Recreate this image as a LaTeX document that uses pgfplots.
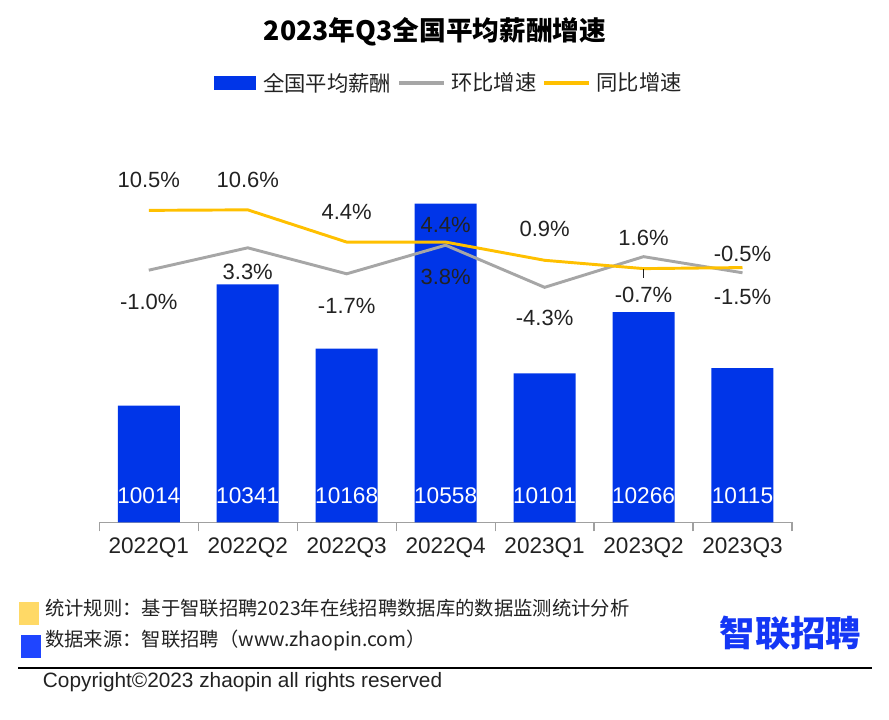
\documentclass[border=0pt]{standalone}
\usepackage{fontspec}
\usepackage{pgfplots}
\pgfplotsset{compat=1.18}
\setmainfont{Liberation Sans}
\newfontfamily\cjk{Noto Sans CJK SC}
\definecolor{barblue}{HTML}{0035E8}
\definecolor{lgray}{HTML}{A6A6A6}
\definecolor{lyellow}{HTML}{FFC000}
\definecolor{sqyellow}{HTML}{FFD966}
\definecolor{sqblue}{HTML}{1F45FF}
\definecolor{logoblue}{HTML}{1436F5}
\definecolor{txt}{HTML}{222222}
\definecolor{axgray}{HTML}{A0A0A0}

\begin{document}
\begin{tikzpicture}
\useasboundingbox (0pt,0pt) rectangle (666.75pt,540pt);
\node[inner sep=0, font=\cjk\bfseries\fontsize{20}{24}\selectfont, text=black] at (326.25pt,516.375pt) {2023年Q3全国平均薪酬增速};

\begin{axis}[
  at={(74.475pt,148.275pt)}, anchor=south west, scale only axis,
  width=519.5pt, height=294pt,
  xmin=-0.5, xmax=6.5, ymin=9700, ymax=10755.7,
  axis x line*=bottom, axis y line=none, ytick=\empty,
  x axis line style={draw=axgray, line width=0.9pt},
  xtick={0,1,2,3,4,5,6},
  xticklabels={2022Q1,2022Q2,2022Q3,2022Q4,2023Q1,2023Q2,2023Q3},
  major tick length=0pt,
  xticklabel style={font=\fontsize{16.9}{18}\selectfont, text=txt, anchor=center, yshift=-19.3pt},
  extra x ticks={-0.5,0.5,1.5,2.5,3.5,4.5,5.5,6.5},
  extra x tick labels={},
  extra x tick style={major tick length=6.75pt, tick align=outside, tick style={draw=axgray, line width=0.9pt}},
  legend columns=3,
  legend image code/.code={\fill[#1] (0pt,-1.1pt) rectangle (33pt,1.1pt);},
  legend style={at={(0.503,1.1207)}, anchor=center, draw=none, fill=none,
    font=\cjk\fontsize{16}{18}\selectfont, text=txt,
    nodes={inner sep=0pt},
    /tikz/every odd column/.append style={column sep=5.6pt},
    /tikz/every even column/.append style={column sep=6pt}},
]
\addplot[ybar, bar width=46.5pt, fill=barblue, draw=none,
  legend image code/.code={\fill[barblue] (0pt,-4.9pt) rectangle (31.5pt,4.9pt);}]
  coordinates {(0,10014) (1,10341) (2,10168) (3,10558) (4,10101) (5,10266) (6,10115)};
\addlegendentry{全国平均薪酬}
\addlegendimage{lgray}
\addlegendentry{环比增速}
\addlegendimage{lyellow}
\addlegendentry{同比增速}
\addplot[draw=none, forget plot, point meta=explicit symbolic, nodes near coords,
  nodes near coords style={anchor=center, yshift=19.95pt, text=white, font=\fontsize{17}{18}\selectfont}]
  coordinates {(0,9700)[10014] (1,9700)[10341] (2,9700)[10168] (3,9700)[10558] (4,9700)[10101] (5,9700)[10266] (6,9700)[10115]};
\end{axis}

\begin{axis}[
  at={(74.475pt,148.275pt)}, anchor=south west, scale only axis,
  width=519.5pt, height=294pt,
  xmin=-0.5, xmax=6.5, ymin=-49.48, ymax=25.9,
  hide axis, clip=false,
]
% 环比增速
\addplot[lgray, line width=2.2pt, mark=none] coordinates {(0,-1.0) (1,3.3) (2,-1.7) (3,3.8) (4,-4.3) (5,1.6) (6,-1.5)};
% 同比增速
\addplot[lyellow, line width=2.2pt, mark=none] coordinates {(0,10.5) (1,10.6) (2,4.4) (3,4.4) (4,0.9) (5,-0.7) (6,-0.5)};
% data labels (placed at label positions)
\addplot[draw=none, point meta=explicit symbolic, nodes near coords={\pgfplotspointmeta\%},
  nodes near coords style={anchor=center, text=txt, font=\fontsize{16.5}{18}\selectfont}]
  coordinates {(0,-7.06)[-1.0] (1,-1.29)[3.3] (2,-7.88)[-1.7] (3,-2.37)[3.8] (4,-10.25)[-4.3] (5,5.13)[1.6] (6,-6.10)[-1.5]};
\addplot[draw=none, point meta=explicit symbolic, nodes near coords={\pgfplotspointmeta\%},
  nodes near coords style={anchor=center, text=txt, font=\fontsize{16.5}{18}\selectfont}]
  coordinates {(0,16.35)[10.5] (1,16.35)[10.6] (2,10.25)[4.4] (3,7.69)[4.4] (4,6.87)[0.9] (5,-5.77)[-0.7] (6,2.12)[-0.5]};
\draw[txt, line width=0.8pt] (axis cs:5,-0.8) -- (axis cs:5,-2.5);
\end{axis}

% footer
\fill[sqyellow] (14.475pt,71.25pt) rectangle (29.025pt,88.725pt);
\fill[sqblue] (15.975pt,46.725pt) rectangle (30.525pt,63.75pt);
\node[inner sep=0, anchor=west, font=\cjk\fontsize{14.5}{16}\selectfont, text=txt] at (33.75pt,83.775pt) {统计规则：基于智联招聘2023年在线招聘数据库的数据监测统计分析};
\node[inner sep=0, anchor=west, font=\cjk\fontsize{14.5}{16}\selectfont, text=txt] at (33.75pt,60pt) {数据来源：智联招聘（www.zhaopin.com）};
\node[inner sep=0, font=\cjk\bfseries\fontsize{26.5}{30}\selectfont, text=logoblue] at (592.875pt,65.25pt) {智联招聘};
\draw[black, line width=1.5pt] (13.5pt,39.225pt) -- (653.775pt,39.225pt);
\node[inner sep=0, anchor=west, font=\fontsize{15.6}{18}\selectfont, text=txt] at (32.025pt,28.5pt) {Copyright©2023 zhaopin all rights reserved};
\end{tikzpicture}
\end{document}
